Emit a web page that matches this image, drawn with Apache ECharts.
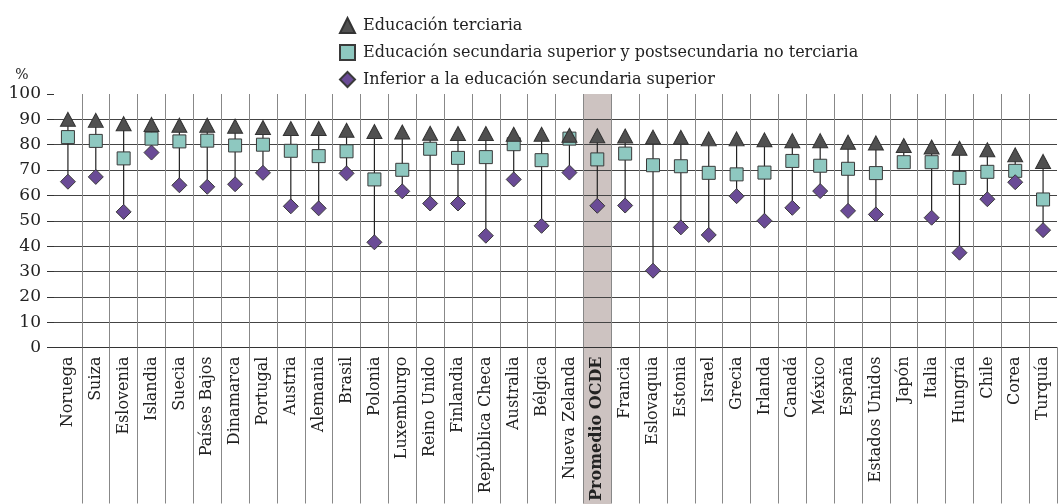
<!DOCTYPE html>
<html>
<head>
<meta charset="utf-8">
<script src="https://cdn.jsdelivr.net/npm/echarts@6/dist/echarts.min.js"></script>
<style>
  html, body { margin: 0; padding: 0; background: #fff; }
  #chart { width: 1060px; height: 504px; }
</style>
</head>
<body>
<div id="chart"></div>
<script>
var paises = ['Noruega', 'Suiza', 'Eslovenia', 'Islandia', 'Suecia', 'Países Bajos', 'Dinamarca', 'Portugal',
  'Austria', 'Alemania', 'Brasil', 'Polonia', 'Luxemburgo', 'Reino Unido', 'Finlandia', 'República Checa',
  'Australia', 'Bélgica', 'Nueva Zelanda', 'Promedio OCDE', 'Francia', 'Eslovaquia', 'Estonia', 'Israel',
  'Grecia', 'Irlanda', 'Canadá', 'México', 'España', 'Estados Unidos', 'Japón', 'Italia', 'Hungría',
  'Chile', 'Corea', 'Turquía'];

// Educación terciaria
var terciaria = [90, 89.6, 88.3, 88, 87.7, 87.7, 87.3, 86.8, 86.4, 86.4, 85.7, 85.2, 85, 84.5, 84.4, 84.4,
  84.1, 84.1, 83.7, 83.5, 83.4, 83, 82.9, 82.3, 82.3, 81.9, 81.6, 81.6, 81, 80.7, 79.7, 79.1, 78.6, 78, 76, 73.4];
// Educación secundaria superior y postsecundaria no terciaria
var secundaria = [83, 81.5, 74.6, 82.4, 81.3, 81.6, 79.7, 80, 77.6, 75.5, 77.4, 66.3, 70.1, 78.4, 74.8, 75.1,
  80.2, 73.9, 82.4, 74.2, 76.5, 71.9, 71.5, 68.9, 68.3, 69, 73.6, 71.7, 70.5, 68.8, 73.1, 73.1, 66.9, 69.3, 69.7, 58.4];
// Inferior a la educación secundaria superior
var inferior = [65.4, 67.3, 53.5, 76.9, 64, 63.4, 64.4, 68.9, 55.7, 54.9, 68.7, 41.5, 61.6, 56.8, 56.8, 44.1,
  66.3, 48, 69, 55.9, 56, 30.3, 47.4, 44.4, 59.7, 50, 55.1, 61.7, 53.9, 52.5, null, 51.2, 37.4, 58.5, 65.2, 46.3];

var yTicks = [0, 10, 20, 30, 40, 50, 60, 70, 80, 90, 100];
var destacado = 'Promedio OCDE';

var fuente = 'DejaVu Serif';

// rango (minimo - maximo) de cada pais para la linea vertical
var rangos = paises.map(function (p, i) {
  var vals = [terciaria[i], secundaria[i], inferior[i]].filter(function (v) { return v != null; });
  return [i, Math.min.apply(null, vals), Math.max.apply(null, vals)];
});

// separadores solo entre paises (ni al inicio ni al final)
function entrePaises(i) { return i > 0 && i < paises.length; }

var chart = echarts.init(document.getElementById('chart'));

var option = {
  animation: false,
  textStyle: { fontFamily: fuente },
  legend: {
    orient: 'vertical',
    left: 334,
    top: 12,
    itemWidth: 15,
    itemHeight: 15,
    itemGap: 10,
    textStyle: { fontFamily: fuente, fontSize: 16, color: '#222', padding: [0, 0, 0, 3] },
    data: [
      { name: 'Educación terciaria', icon: 'triangle' },
      { name: 'Educación secundaria superior y postsecundaria no terciaria', icon: 'rect' },
      { name: 'Inferior a la educación secundaria superior', icon: 'diamond' }
    ]
  },
  grid: { left: 54, right: 3, top: 94, bottom: 156 },
  xAxis: {
    type: 'category',
    data: paises,
    boundaryGap: true,
    axisLine: { show: true, lineStyle: { color: '#333', width: 1 } },
    axisTick: {
      show: true,
      length: 156,
      interval: entrePaises,
      lineStyle: { color: '#888', width: 1 }
    },
    splitLine: {
      show: true,
      interval: 0,
      showMinLine: false,
      showMaxLine: false,
      lineStyle: { color: '#888', width: 1 }
    },
    axisLabel: {
      interval: 0,
      rotate: 90,
      margin: 9,
      fontFamily: fuente,
      fontSize: 16,
      color: '#222',
      formatter: function (v) { return v === destacado ? '{b|' + v + '}' : v; },
      rich: { b: { fontFamily: fuente, fontSize: 16, fontWeight: 'bold', color: '#222' } }
    }
  },
  yAxis: {
    type: 'value',
    min: yTicks[0],
    max: yTicks[yTicks.length - 1],
    interval: 10,
    name: '%',
    nameLocation: 'end',
    nameGap: 12,
    nameTextStyle: { fontFamily: fuente, fontSize: 14, color: '#222', align: 'center', padding: [0, 64, 0, 0] },
    axisLine: { show: false },
    axisTick: { show: true, inside: false, length: 7, lineStyle: { color: '#333' } },
    splitLine: { show: true, showMaxLine: false, lineStyle: { color: '#444', width: 1 } },
    axisLabel: { fontFamily: fuente, fontSize: 17, color: '#222', margin: 13 }
  },
  series: [
    {
      type: 'custom',
      name: 'rango',
      data: rangos,
      z: 1,
      silent: true,
      renderItem: function (params, api) {
        var a = api.coord([api.value(0), api.value(1)]);
        var b = api.coord([api.value(0), api.value(2)]);
        return {
          type: 'line',
          shape: { x1: a[0], y1: a[1], x2: b[0], y2: b[1] },
          style: { stroke: '#222', lineWidth: 1.2 }
        };
      }
    },
    {
      name: 'Educación secundaria superior y postsecundaria no terciaria',
      type: 'scatter',
      data: secundaria,
      symbol: 'rect',
      symbolSize: 13,
      z: 3,
      itemStyle: { color: '#8ec8c0', borderColor: '#3a3a3a', borderWidth: 1, opacity: 1 }
    },
    {
      name: 'Inferior a la educación secundaria superior',
      type: 'scatter',
      data: inferior,
      symbol: 'diamond',
      symbolSize: 15,
      z: 4,
      itemStyle: { color: '#6a4b96', borderColor: '#3a3a3a', borderWidth: 1, opacity: 1 }
    },
    {
      name: 'Educación terciaria',
      type: 'scatter',
      data: terciaria,
      symbol: 'triangle',
      symbolSize: [15, 14],
      z: 5,
      itemStyle: { color: '#505050', borderColor: '#333', borderWidth: 1, opacity: 1 }
    }
  ]
};

chart.setOption(option);

// banda sombreada para el promedio OCDE (desde el area del grafico hasta las etiquetas)
var idx = paises.indexOf(destacado);
var x0 = chart.convertToPixel({ xAxisIndex: 0 }, idx);
var x1 = chart.convertToPixel({ xAxisIndex: 0 }, idx + 1);
var yTop = chart.convertToPixel({ yAxisIndex: 0 }, yTicks[yTicks.length - 1]);
var w = x1 - x0;
chart.setOption({
  graphic: [{
    type: 'rect',
    z: -10,
    silent: true,
    shape: { x: x0 - w / 2, y: yTop, width: w, height: 504 - yTop },
    style: { fill: '#cdc3c1' }
  }]
});
</script>
</body>
</html>
